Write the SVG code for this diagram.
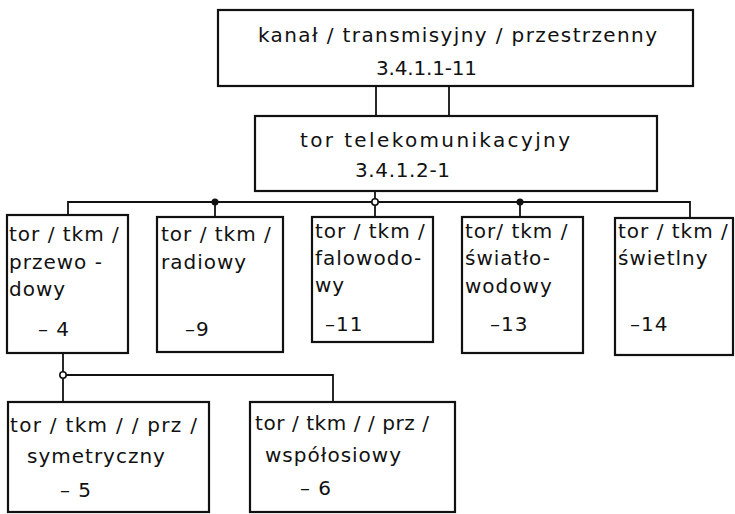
<svg xmlns="http://www.w3.org/2000/svg" width="735" height="514" viewBox="0 0 735 514">
<style>
.box{fill:#fff;stroke:#111;stroke-width:2.2}
.ln{fill:none;stroke:#111;stroke-width:1.8}
text{font-family:"DejaVu Sans","Liberation Sans",sans-serif;font-size:20px;letter-spacing:1px;fill:#111}
.big{font-size:20px;letter-spacing:0}
</style>
<rect width="735" height="514" fill="#fff"/>
<g id="connectors">
<line class="ln" x1="376" y1="86" x2="376" y2="116"/>
<line class="ln" x1="449" y1="86" x2="449" y2="116"/>
<polyline class="ln" points="68,215 68,202 690,202 690,218"/>
<line class="ln" x1="215" y1="202" x2="215" y2="217"/>
<line class="ln" x1="375" y1="191" x2="375" y2="217"/>
<line class="ln" x1="520" y1="202" x2="520" y2="217"/>
<circle cx="215" cy="202" r="3.5" fill="#111"/>
<circle cx="375" cy="202" r="3.2" fill="#fff" stroke="#111" stroke-width="1.6"/>
<circle cx="520" cy="202" r="3.5" fill="#111"/>
<line class="ln" x1="63" y1="353" x2="63" y2="402"/>
<polyline class="ln" points="63,375 333,375 333,402"/>
<circle cx="63" cy="375" r="3.2" fill="#fff" stroke="#111" stroke-width="1.6"/>
</g>
<g id="kanal">
<rect class="box" x="218" y="10" width="475" height="76"/>
<text class="big" x="258" y="42" textLength="399">kanał / transmisyjny / przestrzenny</text>
<text class="big" x="376" y="75" textLength="101">3.4.1.1-11</text>
</g>
<g id="tor">
<rect class="box" x="255" y="116" width="402" height="75"/>
<text class="big" x="300" y="147" textLength="270">tor  telekomunikacyjny</text>
<text class="big" x="355" y="177" textLength="95">3.4.1.2-1</text>
</g>
<g id="przewodowy">
<rect class="box" x="7" y="215" width="121" height="138"/>
<text x="9" y="241">tor / tkm /</text>
<text x="9" y="269">przewo -</text>
<text x="9" y="296">dowy</text>
<text x="38" y="336">– 4</text>
</g>
<g id="radiowy">
<rect class="box" x="157" y="217" width="126" height="135"/>
<text x="161" y="241">tor / tkm /</text>
<text x="161" y="269">radiowy</text>
<text x="185" y="336">–9</text>
</g>
<g id="falowodowy">
<rect class="box" x="312" y="217" width="121" height="125"/>
<text x="315" y="238">tor / tkm /</text>
<text x="315" y="265">falowodo-</text>
<text x="315" y="292">wy</text>
<text x="325" y="331">–11</text>
</g>
<g id="swiatlowodowy">
<rect class="box" x="462" y="217" width="121" height="136"/>
<text x="465" y="238">tor/ tkm /</text>
<text x="465" y="265">światło-</text>
<text x="465" y="293">wodowy</text>
<text x="490" y="331">–13</text>
</g>
<g id="swietlny">
<rect class="box" x="615" y="218" width="118" height="137"/>
<text x="618" y="238">tor / tkm /</text>
<text x="618" y="265">świetlny</text>
<text x="630" y="331">–14</text>
</g>
<g id="symetryczny">
<rect class="box" x="8" y="402" width="201" height="110"/>
<text x="10" y="432" textLength="188">tor / tkm / / prz /</text>
<text x="27" y="463">symetryczny</text>
<text x="60" y="497">– 5</text>
</g>
<g id="wspolosiowy">
<rect class="box" x="250" y="402" width="205" height="110"/>
<text x="255" y="430" textLength="175">tor / tkm / / prz /</text>
<text x="265" y="462">współosiowy</text>
<text x="300" y="495">– 6</text>
</g>
</svg>
